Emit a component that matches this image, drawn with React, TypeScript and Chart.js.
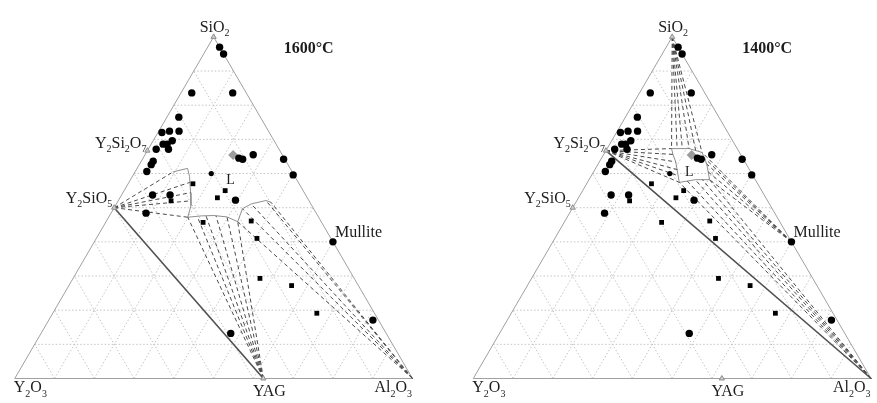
import React, { useEffect, useRef } from "react";
import { Chart, registerables } from "chart.js";

Chart.register(...registerables);

// Compositions are [SiO2 mol%, Al2O3 mol%]; Y2O3 is the remainder.
type Comp = [number, number];

const GRID_TICKS = [10, 20, 30, 40, 50, 60, 70, 80, 90];

const SIO2: Comp = [100, 0];
const Y2O3: Comp = [0, 0];
const AL2O3: Comp = [0, 100];
const Y2SI2O7: Comp = [66.7, 0];
const Y2SIO5: Comp = [50, 0];
const MULLITE: Comp = [40, 60];
const YAG: Comp = [0, 62.5];

const SAMPLES_CIRCLE: Comp[] = [
  [97, 3], [95, 5], [83.6, 2.7], [83.6, 13], [76.5, 3], [72, 1], [72.4, 2.7],
  [72.4, 5.1], [69.6, 4.8], [68.6, 3], [68.6, 4], [67.1, 5.1], [67.1, 2],
  [63.6, 3], [62.6, 3], [60.6, 2.9], [64.5, 24.1], [64.2, 25.2], [65.5, 27.2],
  [64.2, 35.5], [59.6, 40.2], [53.7, 7.8], [53.7, 12.2], [48.4, 8.8],
  [52.2, 29.4], [40, 60], [17.1, 81.5], [13.2, 47.7],
];
const SAMPLES_SQUARE: Comp[] = [
  [57, 16.3], [55, 25.4], [52.9, 24.5], [52, 13.3], [45.7, 24.5], [46.1, 36.4],
  [41, 40.4], [29.3, 47], [27.2, 56], [19.1, 66.4],
];
const SAMPLES_SMALL: Comp[] = [[60, 19.4]];
const LIQUID_MARK: Comp[] = [[65.4, 22.2]];
const PHASE_MARKS: Comp[] = [SIO2, Y2SI2O7, Y2SIO5, MULLITE, YAG];

// ---- 1600 °C ----
const L1600_Y2SIO5_REGION: Comp[] = [
  [60.5, 9.6], [61.5, 12.7], [59.1, 14.4], [54.4, 17], [50.6, 19], [47.2, 19.9],
];
const L1600_LOWER_CURVE: Comp[] = [
  [47.2, 19.9], [47.6, 23.1], [47.7, 26.3], [47.3, 29.7], [45.9, 33.1],
];
const L1600_RIGHT_CURVE: Comp[] = [
  [45.9, 33.1], [49.7, 32.4], [51.1, 33.9], [52.1, 37.1], [51.6, 38.6],
];
const L1600_FAN_Y2SIO5: Comp[] = [
  [60.5, 9.6], [57.4, 15.3], [54.4, 17], [52, 18.2], [47.2, 19.9],
];
const L1600_FAN_YAG: Comp[] = [
  [47.2, 19.9], [47.4, 22.2], [47.6, 24.3], [47.6, 26.8], [47.3, 29.7], [45.9, 33.1],
];
const L1600_FAN_AL2O3: Comp[] = [
  [45.9, 33.1], [49.7, 32.4], [51.1, 33.9], [52.1, 37.1], [51.6, 38.6],
];
const L1600_LABEL: Comp = [58.5, 25];

// ---- 1400 °C ----
const L1400_REGION: Comp[] = [
  [67.3, 16.2], [67.3, 20.6], [66.2, 24.4], [62.8, 27.3], [58.2, 30.3],
  [58.2, 26.7], [57.4, 23.1], [63.4, 19.2], [65.6, 17.4], [67.3, 16.2],
];
const L1400_FAN_SIO2: Comp[] = [
  [67.3, 16.2], [67.3, 17.6], [67.3, 18.9], [67.3, 20.6], [66.8, 22.5], [66.2, 24.4],
];
const L1400_FAN_Y2SI2O7: Comp[] = [
  [67.3, 16.2], [65.6, 17.4], [63.4, 19.2], [61.1, 20.9], [59.3, 22.0], [57.4, 23.1],
];
const L1400_FAN_MULLITE: Comp[] = [
  [66.2, 24.4], [64.5, 25.9], [62.8, 27.3], [60.5, 28.8], [58.2, 30.3],
];
const L1400_FAN_AL2O3: Comp[] = [
  [57.4, 23.1], [57.8, 24.9], [58.2, 26.7], [58.2, 28.5], [58.2, 30.3],
];
const L1400_LABEL: Comp = [60.8, 23.9];

const H = Math.sqrt(3) / 2;
const toXY = (c: Comp) => ({ x: c[1] / 100 + c[0] / 200, y: (c[0] / 100) * H });
const GAP = { x: NaN, y: NaN };

function polyline(paths: Comp[][]) {
  const out: any[] = [];
  paths.forEach((p, i) => {
    if (i) out.push(GAP);
    p.forEach((c) => out.push(toXY(c)));
  });
  return out;
}
const fan = (origin: Comp, targets: Comp[]) => targets.map((t) => [origin, t] as Comp[]);

function gridPaths(): Comp[][] {
  const paths: Comp[][] = [];
  GRID_TICKS.forEach((t) => {
    paths.push([[t, 0], [t, 100 - t]]);
    paths.push([[0, t], [100 - t, t]]);
    paths.push([[0, 100 - t], [100 - t, 0]]);
  });
  return paths;
}

type Label = {
  text: string; at: Comp; dx: number; dy: number;
  align: "left" | "center" | "right"; size: number; bold?: boolean; chem?: boolean;
};

function drawText(ctx: CanvasRenderingContext2D, l: Label, x: number, y: number) {
  const fam = '"Liberation Serif", "Times New Roman", serif';
  const main = `${l.bold ? "bold " : ""}${l.size}px ${fam}`;
  const subSize = Math.round(l.size * 0.62);
  const sub = `${l.bold ? "bold " : ""}${subSize}px ${fam}`;
  const parts: { t: string; s: boolean }[] = [];
  if (l.chem) {
    const re = /(\d+)|([^\d]+)/g;
    let m: RegExpExecArray | null;
    while ((m = re.exec(l.text))) parts.push({ t: m[0], s: !!m[1] });
  } else parts.push({ t: l.text, s: false });
  let w = 0;
  parts.forEach((p) => { ctx.font = p.s ? sub : main; w += ctx.measureText(p.t).width; });
  let cx = l.align === "left" ? x : l.align === "center" ? x - w / 2 : x - w;
  ctx.fillStyle = "#1c1c1c";
  ctx.textAlign = "left";
  ctx.textBaseline = "alphabetic";
  parts.forEach((p) => {
    ctx.font = p.s ? sub : main;
    ctx.fillText(p.t, cx, p.s ? y + l.size * 0.28 : y);
    cx += ctx.measureText(p.t).width;
  });
}

function makeConfig(opts: {
  width: number; originX: number; labels: Label[];
  solid: Comp[][]; dashed: Comp[][]; boundaries: Comp[][];
}): any {
  const PX = 407;
  const PY = 404.5;
  const oy = 383;
  const H_CANVAS = 403;
  const labelPlugin = {
    id: "labels",
    afterDatasetsDraw(chart: any) {
      const ctx = chart.ctx;
      const xs = chart.scales.x;
      const ys = chart.scales.y;
      ctx.save();
      opts.labels.forEach((l) => {
        const p = toXY(l.at);
        drawText(ctx, l, xs.getPixelForValue(p.x) + l.dx, ys.getPixelForValue(p.y) + l.dy);
      });
      ctx.restore();
    },
  };
  const line = (data: any[], color: string, width: number, dash: number[] = []) => ({
    type: "scatter", data, showLine: true, pointRadius: 0, borderColor: color,
    borderWidth: width, borderDash: dash, backgroundColor: "transparent", clip: false,
    spanGaps: false,
  });
  const pts = (data: Comp[], style: string, r: number, bg: string, border = bg, bw = 0) => ({
    type: "scatter", data: data.map(toXY), pointStyle: style, pointRadius: r,
    backgroundColor: bg, borderColor: border, borderWidth: bw, clip: false,
  });
  return {
    type: "scatter",
    data: {
      datasets: [
        pts(SAMPLES_CIRCLE, "circle", 3.7, "#000"),
        pts(SAMPLES_SQUARE, "rect", 3.4, "#000"),
        pts(SAMPLES_SMALL, "circle", 2.6, "#000"),
        pts(LIQUID_MARK, "rectRot", 5, "#9c9c9c"),
        pts(PHASE_MARKS, "triangle", 3, "#cfcfcf", "#8c8c8c", 1),
        line(polyline(opts.solid), "#505050", 1.6),
        line(polyline(opts.dashed), "#4a4a4a", 1, [4, 3]),
        line(polyline(opts.boundaries), "#8f8f8f", 1),
        line(polyline([[SIO2, Y2O3, AL2O3, SIO2]]), "#a0a0a0", 1),
        line(polyline(gridPaths()), "#c4c4c4", 1, [1.5, 2]),
      ],
    },
    options: {
      animation: false,
      responsive: false,
      events: [],
      layout: { padding: 0 },
      plugins: { legend: { display: false }, tooltip: { enabled: false } },
      scales: {
        x: { type: "linear", display: false, min: -opts.originX / PX, max: (opts.width - opts.originX) / PX },
        y: { type: "linear", display: false, min: -(H_CANVAS - oy) / PY, max: oy / PY },
      },
    },
    plugins: [labelPlugin],
  };
}

function commonLabels(temp: string): Label[] {
  return [
    { text: "SiO2", at: SIO2, dx: 1, dy: -5, align: "center", size: 16, chem: true },
    { text: temp, at: SIO2, dx: 70, dy: 16, align: "left", size: 16, bold: true },
    { text: "Y2Si2O7", at: Y2SI2O7, dx: -1, dy: -3, align: "right", size: 16, chem: true },
    { text: "Y2SiO5", at: Y2SIO5, dx: -2, dy: -5, align: "right", size: 16, chem: true },
    { text: "Mullite", at: MULLITE, dx: 2, dy: -5, align: "left", size: 16 },
    { text: "Y2O3", at: Y2O3, dx: -1, dy: 14, align: "left", size: 16, chem: true },
    { text: "YAG", at: YAG, dx: 6, dy: 18, align: "center", size: 16 },
    { text: "Al2O3", at: AL2O3, dx: -38, dy: 14, align: "left", size: 16, chem: true },
  ];
}

function Panel({ which }: { which: 0 | 1 }) {
  const ref = useRef<HTMLCanvasElement>(null);
  const width = which === 0 ? 438 : 439;
  useEffect(() => {
    if (!ref.current) return;
    const cfg =
      which === 0
        ? makeConfig({
            width, originX: 10,
            labels: [
              ...commonLabels("1600°C"),
              { text: "L", at: L1600_LABEL, dx: 0, dy: 5, align: "center", size: 14 },
            ],
            solid: [[Y2SIO5, YAG]],
            dashed: [
              ...fan(Y2SIO5, L1600_FAN_Y2SIO5),
              ...fan(YAG, L1600_FAN_YAG),
              ...fan(AL2O3, L1600_FAN_AL2O3),
            ],
            boundaries: [L1600_Y2SIO5_REGION, L1600_LOWER_CURVE, L1600_RIGHT_CURVE],
          })
        : makeConfig({
            width, originX: 31,
            labels: [
              ...commonLabels("1400°C"),
              { text: "L", at: L1400_LABEL, dx: 0, dy: 5, align: "center", size: 14 },
            ],
            solid: [[Y2SI2O7, AL2O3]],
            dashed: [
              ...fan(SIO2, L1400_FAN_SIO2),
              ...fan(Y2SI2O7, L1400_FAN_Y2SI2O7),
              ...fan(MULLITE, L1400_FAN_MULLITE),
              ...fan(AL2O3, L1400_FAN_AL2O3),
            ],
            boundaries: [L1400_REGION],
          });
    const chart = new Chart(ref.current, cfg);
    return () => chart.destroy();
  }, [which]);
  return (
    <canvas
      ref={ref}
      width={width}
      height={403}
      style={{ position: "absolute", top: 0, left: which === 0 ? 0 : 438, width, height: 403 }}
    />
  );
}

export default function App() {
  return (
    <div style={{ position: "absolute", left: 0, top: 0, width: 877, height: 403, background: "#fff", overflow: "hidden" }}>
      <Panel which={0} />
      <Panel which={1} />
    </div>
  );
}
